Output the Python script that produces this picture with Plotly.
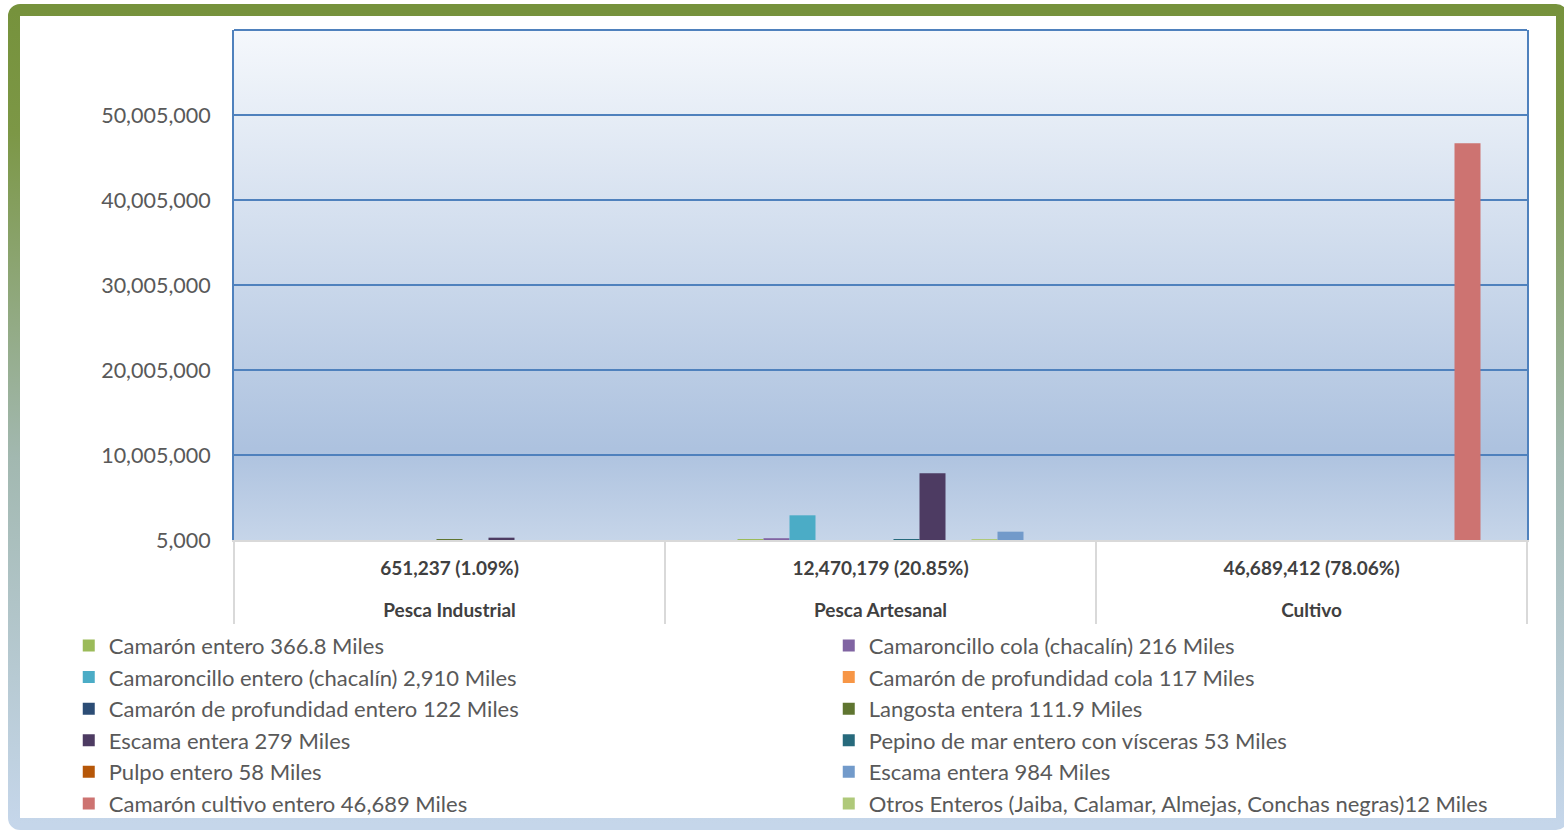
import base64
import plotly.graph_objects as go

# ---------------- data ----------------
categorias = ["Pesca Industrial", "Pesca Artesanal", "Cultivo"]
totales = ["651,237 (1.09%)", "12,470,179 (20.85%)", "46,689,412 (78.06%)"]

series_names = [
    "",  # spacer series (no legend entry)
    "Camarón entero 366.8 Miles",
    "Camaroncillo cola (chacalín) 216 Miles",
    "Camaroncillo entero (chacalín) 2,910 Miles",
    "Camarón de profundidad cola 117 Miles",
    "Camarón de profundidad entero 122 Miles",
    "Langosta entera 111.9 Miles",
    "Pepino de mar entero con vísceras 53 Miles",
    "Escama entera 279 Miles",
    "Pulpo entero 58 Miles",
    "Otros Enteros (Jaiba, Calamar, Almejas, Conchas negras)12 Miles",
    "Escama entera 984 Miles",
    "Camarón cultivo entero 46,689 Miles",
]

spacer = [0, 0, 0]
camaron_entero = [0, 110000, 0]
camaroncillo_cola = [0, 216000, 0]
camaroncillo_entero = [0, 2910000, 0]
profundidad_cola = [0, 0, 0]
profundidad_entero = [0, 0, 0]
langosta = [12000, 0, 0]
pepino = [0, 40000, 0]
escama_279 = [279000, 7850000, 0]
pulpo = [0, 5000, 0]
otros = [0, 12000, 0]
escama_984 = [0, 984000, 0]
camaron_cultivo = [0, 0, 46689412]

series_values = [spacer, camaron_entero, camaroncillo_cola, camaroncillo_entero,
                 profundidad_cola, profundidad_entero, langosta, pepino,
                 escama_279, pulpo, otros, escama_984, camaron_cultivo]

series_colors = ["rgba(0,0,0,0)", "#9bbb59", "#8064a2", "#4bacc6", "#f79646", "#2c4d75",
                 "#5f7530", "#276a7c", "#4d3b62", "#b65708", "#afc97a", "#729aca", "#cd7371"]

legend_rank = [0, 1, 2, 3, 4, 5, 6, 8, 7, 9, 12, 10, 11]

y_ticks = [5000, 10005000, 20005000, 30005000, 40005000, 50005000]
y_range = [5000, 60005000]

# ---------------- layout geometry ----------------
W, H = 1564, 834
ML, MR, MT, MB = 234, 37, 30, 294
PW, PH = W - ML - MR, H - MT - MB

FONT = "Lato"

def svg_uri(svg):
    return "data:image/svg+xml;base64," + base64.b64encode(svg.encode("utf-8")).decode()

plot_bg_svg = (
    f"<svg xmlns='http://www.w3.org/2000/svg' width='{PW}' height='{PH}' viewBox='0 0 {PW} {PH}' preserveAspectRatio='none'>"
    "<defs><linearGradient id='g' x1='0' y1='0' x2='0' y2='1'>"
    "<stop offset='0' stop-color='#f5f8fc'/>"
    "<stop offset='0.82' stop-color='#adc2df'/>"
    "<stop offset='1' stop-color='#c6d5e9'/>"
    "</linearGradient></defs>"
    f"<rect x='0' y='0' width='{PW}' height='{PH}' fill='url(#g)'/></svg>"
)

frame_svg = (
    f"<svg xmlns='http://www.w3.org/2000/svg' width='{W}' height='{H}' viewBox='0 0 {W} {H}' preserveAspectRatio='none'>"
    "<defs><linearGradient id='f' x1='0' y1='0' x2='0' y2='1'>"
    "<stop offset='0' stop-color='#76923c'/>"
    "<stop offset='0.15' stop-color='#7c9746'/>"
    "<stop offset='0.55' stop-color='#a2b8b0'/>"
    "<stop offset='1' stop-color='#c5d6ea'/>"
    "</linearGradient></defs>"
    "<rect x='14' y='10' width='1548' height='814' rx='6' ry='6' fill='none' stroke='url(#f)' stroke-width='12'/></svg>"
)

fig = go.Figure()
for name, vals, col, rank in zip(series_names, series_values, series_colors, legend_rank):
    fig.add_trace(go.Bar(
        x=categorias, y=vals, name=name if name else "spacer",
        marker=dict(color=col, line=dict(width=0)),
        showlegend=bool(name), legendrank=rank,
        hoverinfo="skip" if not name else None,
    ))

ticktext = [
    f"<span style='font-size:19px'><b>{t}</b></span><br> <br><span style='font-size:19px'><b>{c}</b></span>"
    for t, c in zip(totales, categorias)
]

fig.update_layout(
    width=W, height=H,
    margin=dict(l=ML, r=MR, t=MT, b=MB, autoexpand=False),
    paper_bgcolor="white",
    plot_bgcolor="rgba(0,0,0,0)",
    font=dict(family=FONT, color="#595959"),
    barmode="group",
    bargap=0.2158,
    bargroupgap=0,
    showlegend=True,
    legend=dict(
        orientation="h", x=-0.1278, xanchor="left", y=-0.166, yanchor="top",
        entrywidth=715, entrywidthmode="pixels",
        font=dict(family=FONT, size=22, color="#595959"),
        bgcolor="rgba(0,0,0,0)", traceorder="normal",
    ),
    xaxis=dict(
        type="category", tickvals=categorias, ticktext=ticktext,
        showline=True, linecolor="#d9d9d9", linewidth=2,
        ticks="outside", tickson="boundaries", ticklen=82, tickwidth=2, tickcolor="#d9d9d9",
        tickfont=dict(family=FONT, size=16, color="#404040"),
        ticklabelstandoff=14, showgrid=False, automargin=False,
    ),
    yaxis=dict(
        range=y_range, tickvals=y_ticks, tickformat=",d",
        showgrid=True, gridcolor="#4f81bd", gridwidth=2,
        showline=True, linecolor="#4f81bd", linewidth=2, mirror=True,
        ticks="", zeroline=False,
        tickfont=dict(family=FONT, size=21.5, color="#595959"),
        ticklabelstandoff=17, automargin=False,
    ),
    images=[
        dict(source=svg_uri(frame_svg), xref="paper", yref="paper",
             x=-ML / PW, y=1 + MT / PH, sizex=W / PW, sizey=H / PH,
             xanchor="left", yanchor="top", sizing="stretch", layer="below"),
        dict(source=svg_uri(plot_bg_svg), xref="paper", yref="paper",
             x=0, y=1, sizex=1, sizey=1,
             xanchor="left", yanchor="top", sizing="stretch", layer="below"),
    ],
    shapes=[
        dict(type="line", xref="paper", yref="paper", x0=0, x1=1, y0=1, y1=1,
             line=dict(color="#4f81bd", width=2)),
    ],
)

fig.write_html("out.html", config={"displayModeBar": False},
               post_script="document.body.style.margin='0px';")
